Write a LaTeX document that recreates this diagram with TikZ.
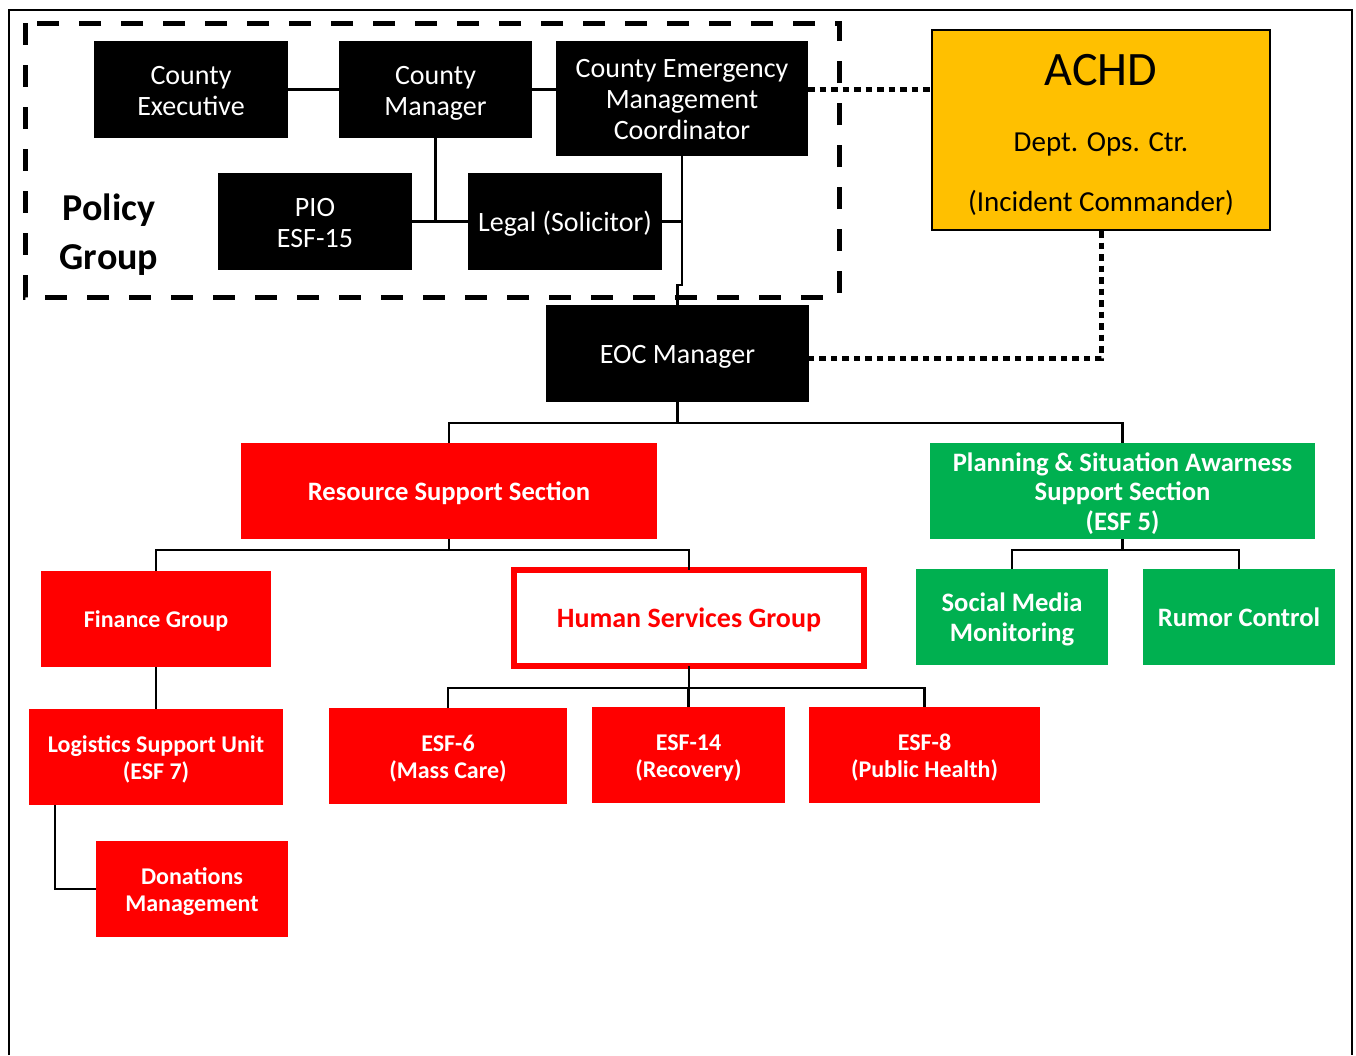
\documentclass[tikz,border=0pt]{standalone}
\usepackage{fontspec}
\setmainfont{Carlito}
\definecolor{bred}{HTML}{FF0000}
\definecolor{bgreen}{HTML}{00B050}
\definecolor{bgold}{HTML}{FFC000}
\newcommand\mytop{\rule{0pt}{0.95\baselineskip}}
\newcommand\mybot{\strut}
\tikzset{
  boxbase/.style={inner sep=0pt, outer sep=0pt, align=center},
  blk/.style={boxbase, fill=black, text=white, font=\fontsize{28}{31}\selectfont},
  secbox/.style={boxbase, fill=bred, text=white, font=\bfseries\fontsize{26.6}{29.5}\selectfont},
  redbox/.style={boxbase, fill=bred, text=white, font=\bfseries\fontsize{24}{27}\selectfont},
  grnbox/.style={boxbase, fill=bgreen, text=white, font=\bfseries\fontsize{26.6}{29.5}\selectfont},
  conn/.style={line width=2.2pt, black},
  dotline/.style={line width=5pt, black, dash pattern=on 6.5pt off 5pt},
  dashline/.style={line width=5pt, black, dash pattern=on 22pt off 20pt}
}
\begin{document}
\begin{tikzpicture}[x=1pt,y=-1pt]
\useasboundingbox (0,0) rectangle (1356,1055);
% outer frame
\draw[line width=1.5pt] (9,1055) -- (9,10) -- (1352,10) -- (1352,1055);
% policy group dashed frame
\draw[dashline] (25,23) rectangle (839,297);
\node[font=\bfseries\fontsize{38}{49}\selectfont, align=center] (pg) at (109,235) {Policy\\Group};

% black boxes
\node[blk, minimum width=194pt, minimum height=97pt] (ce) at (191,89.5) {\mytop County\\Executive\mybot};
\node[blk, minimum width=193pt, minimum height=97pt] (cm) at (435.5,89.5) {\mytop County\\Manager\mybot};
\node[blk, minimum width=252pt, minimum height=115pt] (cemc) at (682,98.5) {\mytop County Emergency\\Management\\Coordinator\mybot};
\node[blk, minimum width=194pt, minimum height=97pt] (pio) at (315,221.5) {\mytop PIO\\ESF-15\mybot};
\node[blk, minimum width=194pt, minimum height=97pt] (legal) at (565,221.5) {\mytop Legal (Solicitor)\mybot};
\node[blk, minimum width=263pt, minimum height=97pt] (eoc) at (677.5,353.5) {\mytop EOC Manager\mybot};

% ACHD
\node[fill=bgold, draw=black, line width=2pt, minimum width=338pt, minimum height=200pt, inner sep=0pt] (achd) at (1101,130) {};
\node[font=\fontsize{48}{48}\selectfont] (achdT) at (1101,70) {ACHD};
\node[font=\fontsize{29}{31}\selectfont] (achdD) at (1101,144) {Dept. Ops. Ctr.};
\node[font=\fontsize{29}{31}\selectfont] (achdI) at (1101,203) {(Incident Commander)};

% sections
\node[secbox, minimum width=416pt, minimum height=96pt] (rss) at (449,491) {\mytop Resource Support Section\mybot};
\node[grnbox, minimum width=385pt, minimum height=96pt] (psa) at (1122.5,491) {\mytop Planning \& Situation Awarness\\Support Section\\(ESF 5)\mybot};

% groups
\node[redbox, minimum width=230pt, minimum height=96pt] (fin) at (156,619) {\mytop Finance Group\mybot};
\node[boxbase, fill=white, draw=bred, line width=6pt, text=bred, font=\bfseries\fontsize{28}{30}\selectfont, minimum width=350pt, minimum height=96pt] (hsg) at (689,618) {\mytop Human Services Group\mybot};
\node[grnbox, minimum width=192pt, minimum height=96pt] (smm) at (1012,617) {\mytop Social Media\\Monitoring\mybot};
\node[grnbox, minimum width=192pt, minimum height=96pt] (rum) at (1239,617) {\mytop Rumor Control\mybot};

% units
\node[redbox, minimum width=254pt, minimum height=96pt] (log) at (156,757) {\mytop Logistics Support Unit\\(ESF 7)\mybot};
\node[redbox, minimum width=238pt, minimum height=96pt] (esf6) at (448,756) {\mytop ESF-6\\(Mass Care)\mybot};
\node[redbox, minimum width=193pt, minimum height=96pt] (esf14) at (688.5,755) {\mytop ESF-14\\(Recovery)\mybot};
\node[redbox, minimum width=231pt, minimum height=96pt] (esf8) at (924.5,755) {\mytop ESF-8\\(Public Health)\mybot};
\node[redbox, minimum width=192pt, minimum height=96pt] (don) at (192,889) {\mytop Donations\\Management\mybot};

% policy group connectors
\draw[conn] (ce.east) -- (cm.west);
\draw[conn] (cm.east) -- (cemc.west |- cm.east);
\draw[conn] (cm.south) -- (cm.south |- pio.east);
\draw[conn] (pio.east) -- (legal.west);
\draw[conn] (legal.east) -- (cemc.south |- legal.east);
\coordinate (j1) at (682,285);
\coordinate (j2) at (677.5,285);
\draw[conn] (cemc.south) -- (j1) -- (j2) -- (eoc.north);

% dotted links
\coordinate (dA) at ([yshift=9.5pt]cemc.east);
\draw[dotline] (dA) -- (dA -| achd.west);
\coordinate (dB) at ([yshift=-4.5pt]eoc.east);
\draw[dotline] (achd.south) |- (dB);

% hierarchy
\coordinate (r1) at (677.5,423);
\draw[conn] (eoc.south) -- (r1);
\draw[conn] (rss.north) |- (r1) -| (psa.north);

\coordinate (r2) at (449,550);
\draw[conn] (rss.south) -- (r2);
\draw[conn] (fin.north) |- (r2) -| (hsg.north);

\coordinate (r4) at (1122.5,550);
\draw[conn] (psa.south) -- (r4);
\draw[conn] (smm.north) |- (r4) -| (rum.north);

\draw[conn] (fin.south) -- (log.north);
\coordinate (d2) at (55,805);
\draw[conn] (d2) |- (don.west);

\coordinate (r3) at (689,688);
\draw[conn] (hsg.south) -- (r3);
\draw[conn] (esf6.north) |- (r3) -| (esf8.north);
\draw[conn] (esf14.north) -- (esf14.north |- r3);
\end{tikzpicture}
\end{document}
